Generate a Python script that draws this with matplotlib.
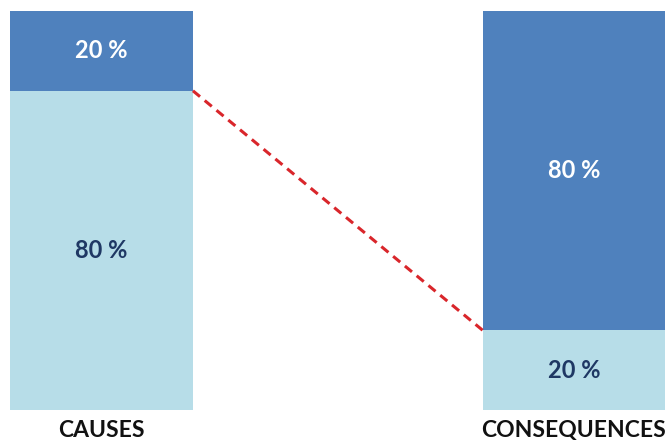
import matplotlib.pyplot as plt

categories = ["CAUSES", "CONSEQUENCES"]
top_share = [20, 80]      # dark upper segment, percent
bottom_share = [80, 20]   # light lower segment, percent

dark = "#4F81BD"
light = "#B7DDE8"
navy = "#1F3864"

plt.rcParams["font.family"] = ["Lato", "DejaVu Sans"]

fig = plt.figure(figsize=(6.68, 4.43), dpi=100)
ax = fig.add_axes([0, 33 / 443, 1, 399 / 443])

x = [0, 1]
width = 0.387
ax.bar(x, bottom_share, width, color=light)
ax.bar(x, top_share, width, bottom=bottom_share, color=dark)

for i in x:
    ax.text(i, bottom_share[i] / 2, f"{bottom_share[i]} %", ha="center", va="center",
            fontsize=17, fontweight="bold", color=navy)
    ax.text(i, bottom_share[i] + top_share[i] / 2, f"{top_share[i]} %", ha="center",
            va="center", fontsize=17, fontweight="bold", color="white")

# dashed link between the split points of the two bars
ax.plot([x[0] + width / 2, x[1] - width / 2], [bottom_share[0], bottom_share[1]],
        color="#D9262B", linestyle=(0, (3, 2)), linewidth=2.2)

ax.set_xlim(-101.5 / 472.5, (668 - 101.5) / 472.5)
ax.set_ylim(0, 100)
ax.set_xticks(x)
ax.set_xticklabels(categories, fontsize=16.5, fontweight="bold", color="#111111")
ax.tick_params(axis="x", length=0, pad=7)
ax.set_yticks([])
for s in ax.spines.values():
    s.set_visible(False)

fig.savefig("out.png", dpi=100)
